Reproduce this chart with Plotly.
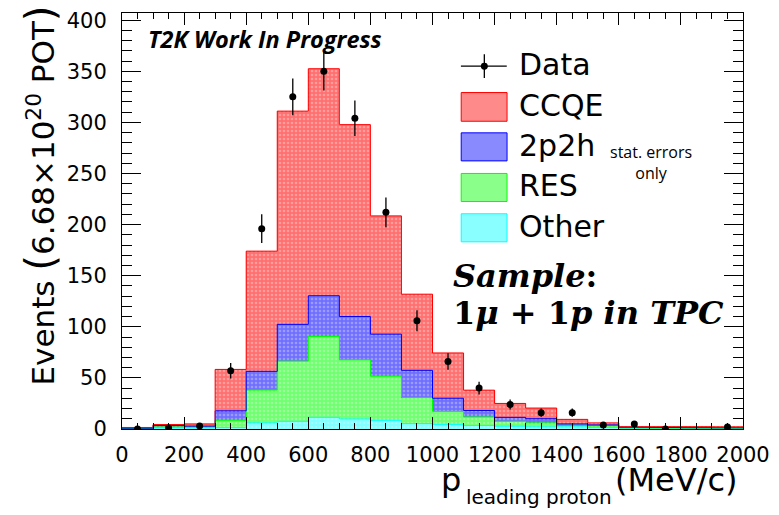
import math
import plotly.graph_objects as go

# ---------------- data ----------------
bin_edges = [0, 100, 200, 300, 400, 500, 600, 700, 800, 900, 1000,
             1100, 1200, 1300, 1400, 1500, 1600, 1700, 1800, 1900, 2000]
bin_centers = [50, 150, 250, 350, 450, 550, 650, 750, 850, 950, 1050,
               1150, 1250, 1350, 1450, 1550, 1650, 1750, 1850, 1950]

other = [0.3, 1.0, 1.0, 1.5, 6.0, 7.5, 11.4, 9.8, 8.5, 5.3, 4.5,
         3.4, 2.7, 2.1, 2.1, 1.5, 0.7, 0.6, 0.5, 0.5]
res = [0.2, 1.0, 1.0, 7.0, 32.1, 58.9, 79.1, 57.9, 43.1, 25.4, 12.7,
       8.4, 4.8, 3.9, 1.6, 1.5, 0.6, 0.5, 0.5, 0.4]
twop2h = [0.3, 1.5, 0.8, 9.3, 18.3, 36.0, 39.9, 42.4, 41.2, 26.7, 12.9,
          6.3, 3.9, 4.1, 1.3, 1.0, 0.4, 0.4, 0.3, 0.3]
ccqe = [0.7, 0.8, 2.2, 40.5, 117.6, 208.6, 222.1, 187.7, 115.7, 74.5, 44.3,
        19.9, 13.6, 10.4, 4.4, 2.0, 0.5, 0.7, 0.9, 0.8]

data_counts = [0, 1, 3, 57, 196, 325, 350, 304, 212, 106, 66,
               40, 24, 16, 16, 4, 5, 0, None, 2]

x_ticks = [0, 200, 400, 600, 800, 1000, 1200, 1400, 1600, 1800, 2000]
y_ticks = [0, 50, 100, 150, 200, 250, 300, 350, 400]

components = [
    ("Other", other, "#00FFFF", "#7FFFFF", "#C8FFFF"),
    ("RES", res, "#00FF00", "#70FF70", "#C8FFC8"),
    ("2p2h", twop2h, "#0000FF", "#7070FF", "#C8C8FF"),
    ("CCQE", ccqe, "#FF0000", "#FF7070", "#FFC8C8"),
]

# ---------------- figure ----------------
W, H = 779, 515
L, R, T, B = 122, 34, 9, 86
PW, PH = W - L - R, H - T - B


def px(xp):
    return (xp - L) / PW


def py(yp):
    return (H - B - yp) / PH


fig = go.Figure()

# stacked, patterned bars
for name, vals, line_c, bg, fg in components:
    fig.add_trace(go.Bar(
        x=bin_centers, y=vals, width=100, name=name,
        marker=dict(color=bg, line=dict(width=0),
                    pattern=dict(shape=".", bgcolor=bg, fgcolor=fg,
                                 size=4, solidity=0.35)),
        showlegend=False, hoverinfo="skip",
    ))

# step outlines of cumulative histograms
cum = [0.0] * len(bin_centers)
for name, vals, line_c, bg, fg in components:
    cum = [c + v for c, v in zip(cum, vals)]
    fig.add_trace(go.Scatter(
        x=bin_edges, y=cum + [cum[-1]], mode="lines",
        line=dict(color=line_c, width=1, shape="hv"),
        showlegend=False, hoverinfo="skip",
    ))

# data points with stat errors
dx = [c for c, v in zip(bin_centers, data_counts) if v is not None]
dy = [v for v in data_counts if v is not None]
de = [math.sqrt(v) for v in dy]
fig.add_trace(go.Scatter(
    x=dx, y=dy, mode="markers",
    marker=dict(color="black", size=7),
    error_y=dict(type="data", array=de, visible=True, color="black",
                 thickness=1.3, width=0),
    showlegend=False, hoverinfo="skip",
))

axis_font = dict(family="DejaVu Sans", size=21, color="black")

fig.update_xaxes(
    range=[0, 2000], tickvals=x_ticks, ticktext=[str(v) for v in x_ticks],
    ticks="inside", ticklen=12, tickwidth=1, tickcolor="black",
    minor=dict(dtick=50, ticklen=6, ticks="inside", tickcolor="black"),
    showline=True, linecolor="black", linewidth=1, mirror="ticks",
    showgrid=False, zeroline=False, tickfont=axis_font,
    ticklabelstandoff=7,
)
fig.update_yaxes(
    range=[0, 407], tickvals=y_ticks, ticktext=[str(v) for v in y_ticks],
    ticks="inside", ticklen=19, tickwidth=1, tickcolor="black",
    minor=dict(dtick=10, ticklen=10, ticks="inside", tickcolor="black"),
    showline=True, linecolor="black", linewidth=1, mirror="ticks",
    showgrid=False, zeroline=False, tickfont=axis_font,
    ticklabelstandoff=10,
)

shapes = []
annotations = []

# legend: Data
shapes.append(dict(type="line", xref="paper", yref="paper",
                   x0=px(462), x1=px(508), y0=py(62.7), y1=py(62.7),
                   line=dict(color="black", width=1.3)))
shapes.append(dict(type="line", xref="paper", yref="paper",
                   x0=px(485.5), x1=px(485.5), y0=py(50.7), y1=py(74.5),
                   line=dict(color="black", width=1.3)))
shapes.append(dict(type="circle", xref="paper", yref="paper",
                   x0=px(482), x1=px(489), y0=py(59.2), y1=py(66.2),
                   fillcolor="black", line=dict(color="black", width=0)))
annotations.append(dict(text="Data", xref="paper", yref="paper",
                        x=px(518), y=py(61), xanchor="left", yanchor="middle",
                        showarrow=False,
                        font=dict(family="DejaVu Sans", size=30, color="black")))

legend_rows = [("CCQE", 89.3, 118.3, "#FF0000", "#FF8A8A"),
               ("2p2h", 130.0, 158.3, "#0000FF", "#8A8AFF"),
               ("RES", 171.0, 199.3, "#00FF00", "#8AFF8A"),
               ("Other", 211.7, 240.0, "#00FFFF", "#8AFFFF")]
for label, y0, y1, lc, fc in legend_rows:
    shapes.append(dict(type="rect", xref="paper", yref="paper",
                       x0=px(462.3), x1=px(508.3), y0=py(y1), y1=py(y0),
                       fillcolor=fc, line=dict(color=lc, width=1)))
    annotations.append(dict(text=label, xref="paper", yref="paper",
                            x=px(518), y=py((y0 + y1) / 2 - 1.5), xanchor="left",
                            yanchor="middle", showarrow=False,
                            font=dict(family="DejaVu Sans", size=30,
                                      color="black")))

annotations.append(dict(text="stat. errors<br>only", xref="paper", yref="paper",
                        x=px(653), y=py(160), xanchor="center", yanchor="middle",
                        showarrow=False, align="center",
                        font=dict(family="Open Sans", size=16, color="black")))

annotations.append(dict(text="<b><i>T2K Work In Progress</i></b>",
                        xref="paper", yref="paper",
                        x=px(146), y=py(35), xanchor="left", yanchor="middle",
                        showarrow=False,
                        font=dict(family="Open Sans", size=23.5, color="black")))

annotations.append(dict(text="<b><i>Sample</i></b><b>:</b>",
                        xref="paper", yref="paper",
                        x=px(452), y=py(275), xanchor="left", yanchor="middle",
                        showarrow=False,
                        font=dict(family="DejaVu Serif", size=32, color="black")))
annotations.append(dict(text="<b>1</b><b><i>\u03bc</i></b><b> + 1</b><b><i>p in TPC</i></b>",
                        xref="paper", yref="paper",
                        x=px(452), y=py(312), xanchor="left", yanchor="middle",
                        showarrow=False,
                        font=dict(family="DejaVu Serif", size=32, color="black")))

# axis titles
annotations.append(dict(
    text="Events <span style='font-size:40px'>(</span>6.68\u00d710<sup>20</sup> POT<span style='font-size:40px'>)</span>",
    xref="paper", yref="paper", x=px(40), y=py(193),
    xanchor="center", yanchor="middle", textangle=-90, showarrow=False,
    font=dict(family="DejaVu Sans", size=31, color="black")))
annotations.append(dict(
    text="p", xref="paper", yref="paper", x=px(440), y=py(480),
    xanchor="left", yanchor="middle", showarrow=False,
    font=dict(family="DejaVu Sans", size=32, color="black")))
annotations.append(dict(
    text="leading proton", xref="paper", yref="paper", x=px(465), y=py(498),
    xanchor="left", yanchor="middle", showarrow=False,
    font=dict(family="DejaVu Sans", size=20, color="black")))
annotations.append(dict(
    text="(MeV/c)", xref="paper", yref="paper", x=px(742), y=py(480),
    xanchor="right", yanchor="middle", showarrow=False,
    font=dict(family="DejaVu Sans", size=32, color="black")))

fig.update_layout(
    width=W, height=H, margin=dict(l=L, r=R, t=T, b=B),
    barmode="stack", bargap=0,
    paper_bgcolor="white", plot_bgcolor="white",
    shapes=shapes, annotations=annotations, showlegend=False,
)

fig.write_html("out.html")
